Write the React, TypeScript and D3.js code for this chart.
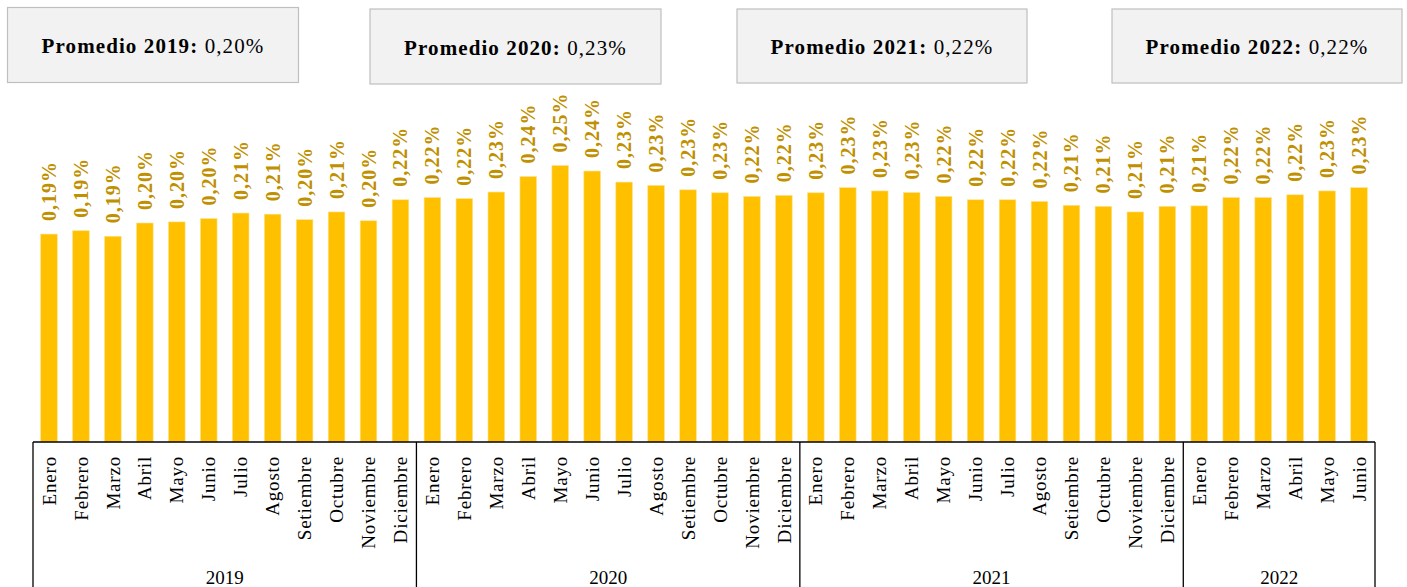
import React from "react";
import * as d3 from "d3";

const months = ["Enero","Febrero","Marzo","Abril","Mayo","Junio","Julio","Agosto","Setiembre","Octubre","Noviembre","Diciembre"];
const years = ["2019", "2020", "2021", "2022"];
const values2019 = [0.188, 0.191, 0.186, 0.198, 0.199, 0.202, 0.207, 0.206, 0.201, 0.208, 0.2, 0.219];
const values2020 = [0.221, 0.22, 0.226, 0.24, 0.25, 0.245, 0.235, 0.232, 0.228, 0.2253, 0.222, 0.223];
const values2021 = [0.2253, 0.23, 0.227, 0.2255, 0.222, 0.219, 0.219, 0.2175, 0.214, 0.213, 0.208, 0.213];
const values2022 = [0.2135, 0.221, 0.221, 0.2235, 0.227, 0.23];
const averages = [0.2, 0.23, 0.22, 0.22];

const W = 1407, H = 587;
const axisLeft = 33, axisRight = 1375, baseY = 442;
const boxLayout = [
  { x: 7.5, y: 7.5, w: 291, h: 75 },
  { x: 370, y: 9, w: 291, h: 75 },
  { x: 737, y: 9, w: 290, h: 74 },
  { x: 1112, y: 9, w: 290, h: 74 },
];

const BAR = "#FFC000";
const LABEL = "#BF9000";
const FONT = "'Liberation Serif', 'Times New Roman', serif";

const fmt = (v: number) => d3.format(".2f")(v).replace(".", ",") + "%";

export default function App() {
  const series = [values2019, values2020, values2021, values2022];
  const data = series.flatMap((vals, yi) =>
    vals.map((v, mi) => ({ key: `${years[yi]}-${mi}`, year: years[yi], month: months[mi], value: v }))
  );
  const x = d3.scaleBand<string>()
    .domain(data.map(d => d.key))
    .range([axisLeft, axisRight])
    .paddingInner(0.48)
    .paddingOuter(0.24);
  const y = d3.scaleLinear().domain([0, 0.25]).range([baseY, 165.5]);
  const step = x.step();

  let idx = 0;
  const groups = series.map((vals, yi) => {
    const start = axisLeft + idx * step;
    idx += vals.length;
    const end = axisLeft + idx * step;
    return { year: years[yi], start, end };
  });

  return (
    <svg width={W} height={H} style={{ position: "absolute", left: 0, top: 0, background: "#fff" }} fontFamily={FONT}>
      {boxLayout.map((b, i) => (
        <g key={i}>
          <rect x={b.x} y={b.y} width={b.w} height={b.h} fill="#F2F2F2" stroke="#BFBFBF" strokeWidth={1.2} />
          <text x={b.x + b.w / 2} y={b.y + b.h / 2 + 8} textAnchor="middle" fontSize={21} fill="#000" letterSpacing={1.1}>
            <tspan fontWeight="bold">{`Promedio ${years[i]}: `}</tspan>
            <tspan>{fmt(averages[i])}</tspan>
          </text>
        </g>
      ))}
      {data.map(d => {
        const bx = x(d.key)!;
        const cx = bx + x.bandwidth() / 2;
        const top = y(d.value);
        return (
          <g key={d.key}>
            <rect x={bx} y={top} width={x.bandwidth()} height={baseY - top} fill={BAR} stroke="#FFE28A" strokeWidth={0.6} />
            <text transform={`translate(${cx},${top - 13}) rotate(-90)`} dy="0.35em" textAnchor="start"
              fontSize={20} fontWeight="bold" fill={LABEL} letterSpacing={1}>{fmt(d.value)}</text>
            <text transform={`translate(${cx},${456}) rotate(-90)`} dy="0.35em" textAnchor="end"
              fontSize={19} fill="#000" letterSpacing={0.8}>{d.month}</text>
          </g>
        );
      })}
      <line x1={axisLeft} x2={axisRight} y1={baseY} y2={baseY} stroke="#000" strokeWidth={1.3} />
      {groups.map((g, i) => (
        <g key={g.year}>
          <line x1={g.start} x2={g.start} y1={baseY} y2={H} stroke="#000" strokeWidth={1.3} />
          {i === groups.length - 1 && <line x1={g.end} x2={g.end} y1={baseY} y2={H} stroke="#000" strokeWidth={1.3} />}
          <text x={(g.start + g.end) / 2} y={584} textAnchor="middle" fontSize={19} fill="#000">{g.year}</text>
        </g>
      ))}
    </svg>
  );
}
